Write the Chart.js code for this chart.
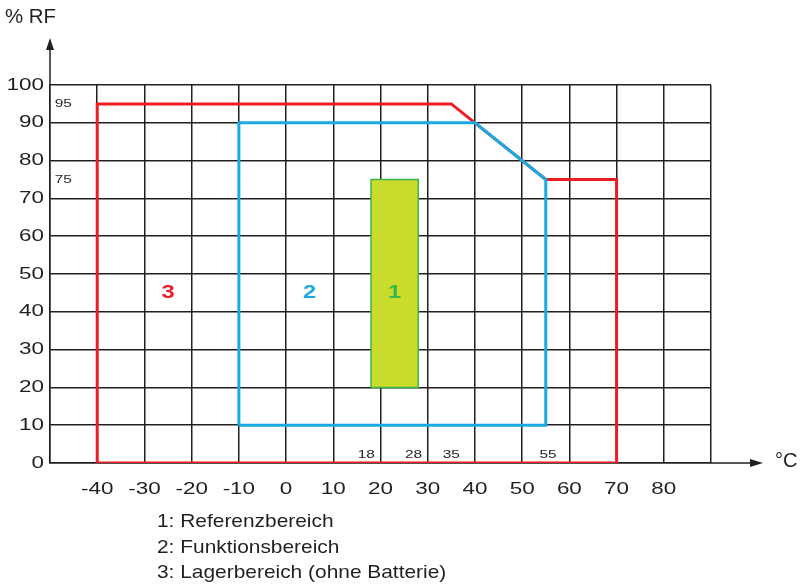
<!DOCTYPE html>
<html>
<head>
<meta charset="utf-8">
<script src="https://cdn.jsdelivr.net/npm/chart.js@4"></script>
<style>
  html, body { margin: 0; padding: 0; background: #fff; }
  #wrap { width: 800px; height: 584px; }
</style>
</head>
<body>
<div id="wrap"><canvas id="rangeChart"></canvas></div>
<script>
// Polygons of the three ranges (temperature in °C, humidity in % RF)
const storageX = [-40, -40, 35, 40, 55, 70, 70, -40];
const storageY = [0, 95, 95, 90, 75, 75, 0, 0];
const functionX = [-10, -10, 40, 55, 55, -10];
const functionY = [10, 90, 90, 75, 10, 10];
const referenceX = [18, 18, 28, 28, 18];
const referenceY = [20, 75, 75, 20, 20];

// Number tags inside the areas
const areaTags = ['3', '2', '1'];
const areaTagX = [-25, 5, 23];
const areaTagY = [45, 45, 45];

// Small value notes along the axes
const noteText = ['95', '75', '18', '28', '35', '55'];
const noteX = [-47.2, -47.2, 17, 27, 35, 55.5];
const noteY = [95, 75, 2, 2, 2, 2];

const legendLines = ['1: Referenzbereich', '2: Funktionsbereich', '3: Lagerbereich (ohne Batterie)'];
const hiddenTicks = [-50, 90];

const toPoints = (xs, ys) => xs.map((x, i) => ({ x: x, y: ys[i] }));

const FONT = '"Liberation Sans", Arial, sans-serif';
const INK = '#231f20';

// text a bit wider than the font, like the original artwork
function wideText(c, text, x, y, align, font, sx) {
    c.save();
    c.translate(x, y);
    c.scale(sx, 1);
    c.font = font;
    c.textAlign = align;
    c.textBaseline = 'middle';
    c.fillText(text, 0, 0);
    c.restore();
}

// extra drawing: axis arrows, tick labels, texts
const decorations = {
    id: 'decorations',
    afterDraw(chart) {
        const c = chart.ctx;
        const xs = chart.scales.x, ys = chart.scales.y;
        const area = chart.chartArea;
        c.save();
        c.strokeStyle = INK;
        c.fillStyle = INK;
        c.lineWidth = 1.5;
        // y axis extension + arrow
        c.beginPath();
        c.moveTo(area.left, area.top);
        c.lineTo(area.left, 48);
        c.stroke();
        c.beginPath();
        c.moveTo(area.left, 38);
        c.lineTo(area.left - 4, 50);
        c.lineTo(area.left + 4, 50);
        c.closePath();
        c.fill();
        // x axis extension + arrow
        c.beginPath();
        c.moveTo(area.right, area.bottom);
        c.lineTo(752, area.bottom);
        c.stroke();
        c.beginPath();
        c.moveTo(763, area.bottom);
        c.lineTo(750, area.bottom - 4);
        c.lineTo(750, area.bottom + 4);
        c.closePath();
        c.fill();

        // tick labels
        const tickFont = '16.5px ' + FONT;
        xs.ticks.forEach(t => {
            if (hiddenTicks.includes(t.value)) return;
            wideText(c, String(t.value), xs.getPixelForValue(t.value), area.bottom + 26, 'center', tickFont, 1.36);
        });
        ys.ticks.forEach(t => {
            wideText(c, String(t.value), area.left - 6, ys.getPixelForValue(t.value), 'right', tickFont, 1.36);
        });

        // axis titles
        wideText(c, '% RF', 5, 17, 'left', '20px ' + FONT, 1.02);
        wideText(c, '°C', 775, area.bottom - 2, 'left', '20px ' + FONT, 1.0);

        // area numbers
        const tagColors = ['#ed1c24', '#1ba9e1', '#39b54a'];
        areaTags.forEach((t, i) => {
            c.fillStyle = tagColors[i];
            wideText(c, t, xs.getPixelForValue(areaTagX[i]), ys.getPixelForValue(areaTagY[i]), 'center', 'bold 19px ' + FONT, 1.25);
        });

        // small notes
        c.fillStyle = INK;
        noteText.forEach((t, i) => {
            wideText(c, t, xs.getPixelForValue(noteX[i]), ys.getPixelForValue(noteY[i]), 'center', '11px ' + FONT, 1.4);
        });

        // legend lines
        legendLines.forEach((t, i) => {
            wideText(c, t, 157, 522 + i * 25.5, 'left', '19px ' + FONT, 1.1);
        });
        c.restore();
    }
};

const ctx = document.getElementById('rangeChart').getContext('2d');
const rangeChart = new Chart(ctx, {
    type: 'scatter',
    data: {
        datasets: [
            {
                label: '2: Funktionsbereich',
                data: toPoints(functionX, functionY),
                showLine: true,
                borderColor: '#1ba9e1',
                borderWidth: 3,
                pointRadius: 0,
                fill: false
            },
            {
                label: '3: Lagerbereich (ohne Batterie)',
                data: toPoints(storageX, storageY),
                showLine: true,
                borderColor: '#ed1c24',
                borderWidth: 3,
                pointRadius: 0,
                fill: false
            },
            {
                label: '1: Referenzbereich',
                data: toPoints(referenceX, referenceY),
                showLine: true,
                borderColor: '#39b54a',
                backgroundColor: '#c9dc2b',
                borderWidth: 1.5,
                pointRadius: 0,
                fill: 'shape'
            }
        ]
    },
    options: {
        responsive: true,
        maintainAspectRatio: false,
        animation: false,
        events: [],
        layout: {
            padding: { left: 0, right: 89, top: 85, bottom: 81 }
        },
        plugins: {
            legend: { display: false },
            tooltip: { enabled: false }
        },
        scales: {
            x: {
                type: 'linear',
                min: -50,
                max: 90,
                afterFit: scale => { scale.height = 40; },
                grid: { color: INK, lineWidth: 1.5, drawTicks: false },
                border: { color: INK, width: 1.5 },
                ticks: { stepSize: 10, display: false }
            },
            y: {
                min: 0,
                max: 100,
                afterFit: scale => { scale.width = 50; },
                grid: { color: INK, lineWidth: 1.5, drawTicks: false },
                border: { color: INK, width: 1.5 },
                ticks: { stepSize: 10, display: false }
            }
        }
    },
    plugins: [decorations]
});
</script>
</body>
</html>
